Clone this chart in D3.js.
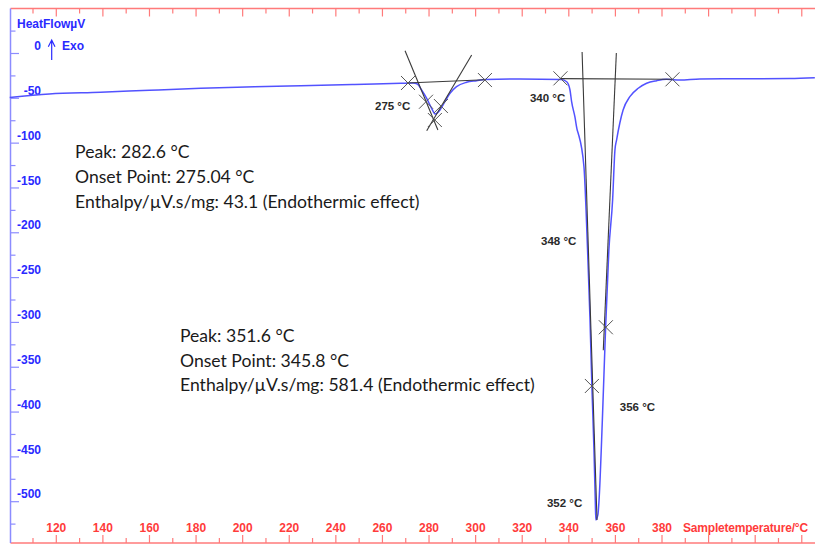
<!DOCTYPE html>
<html>
<head>
<meta charset="utf-8">
<script src="https://cdn.jsdelivr.net/npm/d3@7"></script>
<style>
  html, body { margin: 0; padding: 0; background: #fff; }
  svg { display: block; }
  .axis-num { font-family: "Liberation Sans", Arial, sans-serif; font-weight: bold; font-size: 12px; }
  .note { font-family: Lato, "Open Sans", sans-serif; font-size: 17.6px; fill: #1a1a1a; }
  .tlabel { font-family: "Liberation Sans", Arial, sans-serif; font-weight: bold; font-size: 11.5px; fill: #2a2a2a; }
</style>
</head>
<body>
<svg id="chart" width="815" height="545"></svg>
<script>
// DSC heat-flow trace: sample temperature (°C) vs heat flow (µV)
const temperature = [100, 117, 139, 160, 182, 205, 225, 248, 268, 273.1, 275.0, 276.8, 279.0, 281.1, 282.6,
  284.7, 286.8, 289.0, 291.8, 296.1, 300.4, 304.0, 319, 336.8, 339.1, 340.5, 341.2, 342.6, 343.6, 344.0,
  346.5, 347.4, 348.2, 349.1, 349.9, 350.8, 351.35, 351.6, 352.47, 352.98, 354.4, 355.8, 357.2, 358.8,
  359.8, 360.5, 361.9, 363.3, 366.2, 369.8, 373.4, 377.7, 382.0, 387.7, 396.3, 415, 434.9, 445.6];
const heatFlow = [-49.2, -45.2, -43.3, -41.0, -38.8, -37.2, -35.9, -34.5, -33.2, -32.9, -34.0, -40.7, -50.0, -61.1, -67.5,
  -63.0, -53.8, -44.4, -37.0, -32.1, -30.3, -29.0, -28.4, -29.0, -31.5, -40.7, -53.8, -70.5, -85.3, -88.7,
  -126.3, -174.6, -230.4, -297.3, -370.9, -442.3, -498.1, -520.4, -514.8, -498.1, -408.9, -305.1, -219.2, -163.4,
  -107.6, -96.5, -77.5, -63.0, -48.2, -38.8, -33.2, -30.3, -28.8, -29.6, -28.4, -28.2, -27.9, -27.0];

// Construction lines (baselines and inflection tangents): [T1, HF1, T2, HF2]
const constructionLines = [
  [270.4, -32.9, 304.0, -29.3],
  [269.7, 3.1, 283.8, -85.3],
  [279.0, -86.1, 298.3, -1.7],
  [336.4, -28.0, 384.5, -28.8],
  [345.7, 1.7, 352.1, -520.4],
  [360.4, 0.6, 354.8, -331.0]
];

// Characteristic points marked with crosses
const markerT  = [270.97, 278.7, 285.1, 282.5, 304.0, 336.4, 384.5, 355.9, 349.9];
const markerHF = [-32.9, -53.8, -58.6, -74.2, -29.6, -27.7, -28.8, -305.4, -370.9];

// Temperature labels at characteristic points
const pointLabels = ["275 °C", "340 °C", "348 °C", "356 °C", "352 °C"];
const pointLabelT  = [256.8, 323.3, 328.1, 361.9, 330.6];
const pointLabelHF = [-63.0, -54.4, -213.3, -398.8, -505.9];

// Peak evaluation results
const peakNotes = [
  ["Peak: 282.6 °C", "Onset Point: 275.04 °C", "Enthalpy/µV.s/mg: 43.1 (Endothermic effect)"],
  ["Peak: 351.6 °C", "Onset Point: 345.8 °C", "Enthalpy/µV.s/mg: 581.4 (Endothermic effect)"]
];
const peakNoteT  = [128.05, 173.1];
const peakNoteHF = [-117.1, -322.4];

const xTickLabels = [120, 140, 160, 180, 200, 220, 240, 260, 280, 300, 320, 340, 360, 380];
const yTickLabels = [0, -50, -100, -150, -200, -250, -300, -350, -400, -450, -500];

const svg = d3.select("#chart");
const W = 815;
const axisLeft = 10.5, axisTop = 8.5, axisBottom = 543;

const x = d3.scaleLinear().domain([100, 380]).range([9.7, 662]);
const y = d3.scaleLinear().domain([0, -500]).range([53.5, 501.7]);

const red = "#ff3b3b", axisRed = "#ff7a7a";
const blue = "#2a2aff", axisBlue = "#8c8cff";

// Top and bottom temperature axes
const xMinor = d3.range(110, 450, 10);
[axisTop, axisBottom].forEach((ay, i) => {
  svg.append("line").attr("x1", axisLeft).attr("x2", W).attr("y1", ay).attr("y2", ay)
    .attr("stroke", axisRed).attr("stroke-width", 1.5);
  const dir = i === 0 ? 1 : -1;
  svg.append("g").selectAll("line").data(xMinor).join("line")
    .attr("x1", d => x(d)).attr("x2", d => x(d))
    .attr("y1", ay)
    .attr("y2", d => ay + dir * (d % 20 === 0 ? 8 : 5))
    .attr("stroke", axisRed).attr("stroke-width", 1.2);
});

svg.append("g").selectAll("text").data(xTickLabels).join("text")
  .attr("class", "axis-num")
  .attr("x", d => x(d)).attr("y", 531.5)
  .attr("text-anchor", "middle")
  .attr("fill", red)
  .text(d => d);

svg.append("text").attr("class", "axis-num")
  .attr("x", 683).attr("y", 531.5).attr("fill", red)
  .attr("letter-spacing", -0.2)
  .text("Sampletemperature/°C");

// Heat-flow axis
svg.append("line").attr("x1", axisLeft).attr("x2", axisLeft).attr("y1", axisTop).attr("y2", axisBottom)
  .attr("stroke", axisBlue).attr("stroke-width", 1.5);
const yMinor = d3.range(25, -550, -25);
svg.append("g").selectAll("line").data(yMinor).join("line")
  .attr("x1", axisLeft).attr("x2", d => axisLeft + (d % 50 === 0 ? 8.5 : 5))
  .attr("y1", d => y(d)).attr("y2", d => y(d))
  .attr("stroke", axisBlue).attr("stroke-width", 1.2);

svg.append("g").selectAll("text").data(yTickLabels).join("text")
  .attr("class", "axis-num")
  .attr("x", 41).attr("y", d => y(d) - 3.3)
  .attr("text-anchor", "end")
  .attr("fill", blue)
  .text(d => d);

svg.append("text").attr("class", "axis-num")
  .attr("x", 17).attr("y", 27.7).attr("fill", blue)
  .text("HeatFlowµV");
svg.append("text").attr("class", "axis-num")
  .attr("x", 62).attr("y", 50).attr("fill", blue)
  .text("Exo");
svg.append("path")
  .attr("d", "M51.7,60 L51.7,40 M48.3,46.7 L51.7,40 L55,46.7")
  .attr("fill", "none").attr("stroke", blue).attr("stroke-width", 1.2);

// Heat-flow curve
const pts = temperature.map((t, i) => [t, heatFlow[i]]);
const line = d3.line().x(d => x(d[0])).y(d => y(d[1])).curve(d3.curveMonotoneX);
svg.append("path").datum(pts).attr("d", line)
  .attr("fill", "none").attr("stroke", "#5252ff").attr("stroke-width", 1.5);

// Construction lines
svg.append("g").selectAll("line").data(constructionLines).join("line")
  .attr("x1", d => x(d[0])).attr("y1", d => y(d[1]))
  .attr("x2", d => x(d[2])).attr("y2", d => y(d[3]))
  .attr("stroke", "#3a3a3a").attr("stroke-width", 1.1);

// Cross markers
const markers = markerT.map((t, i) => [t, markerHF[i]]);
svg.append("g").selectAll("path").data(markers).join("path")
  .attr("transform", d => `translate(${x(d[0])},${y(d[1])})`)
  .attr("d", "M-7,-7L7,7M-7,7L7,-7")
  .attr("fill", "none").attr("stroke", "#555").attr("stroke-width", 1);

// Point labels
svg.append("g").selectAll("text").data(pointLabels).join("text")
  .attr("class", "tlabel")
  .attr("x", (d, i) => x(pointLabelT[i])).attr("y", (d, i) => y(pointLabelHF[i]))
  .text(d => d);

// Peak evaluation notes
const noteGap = [25, 24.5];
peakNotes.forEach((lines, k) => {
  svg.append("g").selectAll("text").data(lines).join("text")
    .attr("class", "note")
    .attr("x", x(peakNoteT[k]))
    .attr("y", (d, i) => y(peakNoteHF[k]) + i * noteGap[k])
    .text(d => d);
});
</script>
</body>
</html>
